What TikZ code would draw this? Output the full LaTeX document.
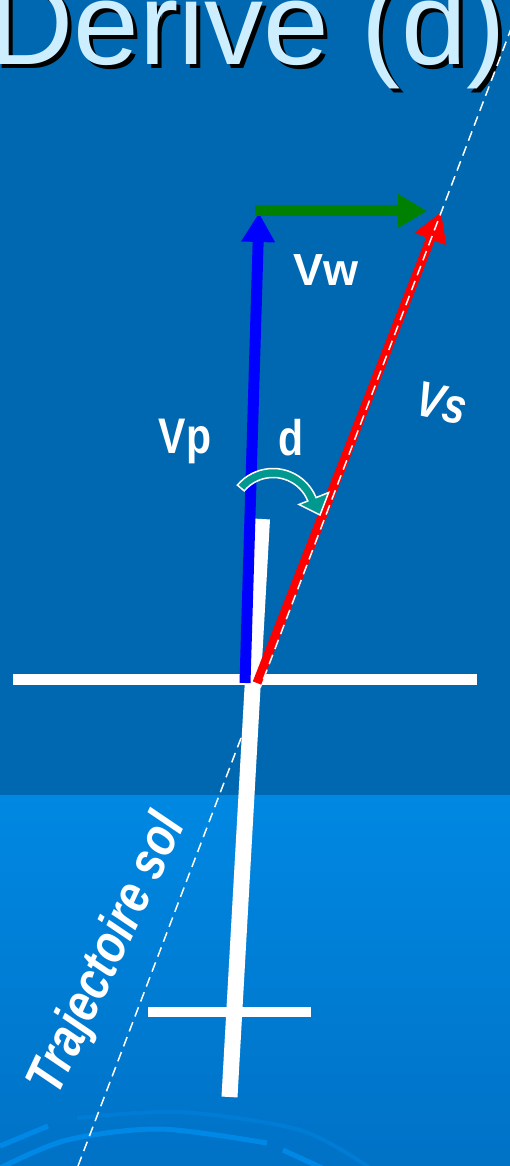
\documentclass[tikz,border=0pt]{standalone}
\usepackage{fontspec}
\setmainfont{Liberation Sans}
\newfontfamily\narrowfont[FakeStretch=0.82]{Liberation Sans}
\usetikzlibrary{arrows.meta}
\definecolor{skytop}{HTML}{0068B0}
\definecolor{groundtop}{HTML}{0088E2}
\definecolor{groundbottom}{HTML}{0072C6}
\definecolor{globeline}{HTML}{0088E6}
\definecolor{titlecolor}{HTML}{CCEEFF}
\definecolor{windcolor}{HTML}{008000}
\definecolor{turncolor}{HTML}{00998F}

\begin{document}
\begin{tikzpicture}[
  x=1pt, y=-1pt,
  every node/.style={text=white, inner sep=0pt},
  vector/.style={-{Triangle[width=32pt,length=29pt]}},
  plane/.style={draw=white},
  track/.style={draw=white, line width=1.5pt, dash pattern=on 10pt off 6pt},
  turn/.style={fill=turncolor, draw=white, line width=1.5pt},
  globe/.style={draw=globeline, line width=5pt},
  titlefont/.style={font=\fontsize{118}{118}\selectfont},
  labelfont/.style={font=\narrowfont\bfseries\fontsize{50}{50}\selectfont},
  slantfont/.style={font=\narrowfont\bfseries\itshape\fontsize{#1}{#1}\selectfont}
]
  \useasboundingbox (0,0) rectangle (510,1166);
  \clip (0,0) rectangle (510,1166);

  \coordinate (gsbottom) at (78,1166);
  \coordinate (gswing) at (263.5,679);
  \coordinate (gstop) at (522,0);
  \coordinate (vpstart) at (245,683);
  \coordinate (vptip) at (259,213);
  \coordinate (vwstart) at (255,211);
  \coordinate (vwtip) at (427,211);
  \coordinate (vsstart) at (257,683);
  \coordinate (vstip) at (441,212);
  \coordinate (dpivot) at (273,515);

  \fill[skytop] (0,0) rectangle (510,795);
  \shade[top color=groundtop, bottom color=groundbottom] (0,795) rectangle (510,1166);

  \draw[globe] (0,1146) -- (48,1126);
  \draw[globe] plot[smooth] coordinates {(0,1168) (67,1140) (160,1129) (267,1143)};
  \draw[globe, line width=4pt, draw=globeline!45!groundbottom]
    plot[smooth] coordinates {(77,1118) (180,1112) (300,1130) (370,1168)};
  \draw[globe] (283,1150) -- (322,1168);

  \node[titlefont, text=black, anchor=base west] (titleshadow) at (-8,69) {Derive (d)};
  \node[titlefont, text=titlecolor, anchor=base west] (title) at (-12,65) {Derive (d)};

  \draw[track] (gsbottom) -- (gswing);

  \draw[plane, line width=16pt] (262,519) -- (229.5,1097);
  \draw[plane, line width=11pt] (13,679.5) -- (477,679.5);
  \draw[plane, line width=10pt] (148,1012) -- (311,1012);

  \draw[vector, red, line width=9pt] (vsstart) -- (vstip);
  \draw[vector, blue, line width=11pt] (vpstart) -- (vptip);
  \draw[vector, windcolor, line width=11pt] (vwstart) -- (vwtip);

  \draw[track] (gswing) -- (gstop);

  \draw[turn] ([shift={(-140:46.5)}]dpivot)
    arc[start angle=-140, end angle=-22, radius=46.5]
    -- ([shift={(-22:60)}]dpivot) -- ([shift={(0:47)}]dpivot)
    -- ([shift={(-22:28)}]dpivot) -- ([shift={(-22:37.5)}]dpivot)
    arc[start angle=-22, end angle=-140, radius=37.5] -- cycle;

  \node[font=\bfseries\fontsize{45}{45}\selectfont, anchor=base] (vw) at (326,285) {Vw};
  \node[labelfont, anchor=base] (vp) at (185,453) {Vp};
  \node[labelfont, anchor=base] (d) at (291,455) {d};
  \node[slantfont=50, rotate=-12] (vs) at (442,403) {Vs};
  \node[slantfont=54, rotate=65] (trajsol) at (109,955) {Trajectoire sol};
\end{tikzpicture}
\end{document}
